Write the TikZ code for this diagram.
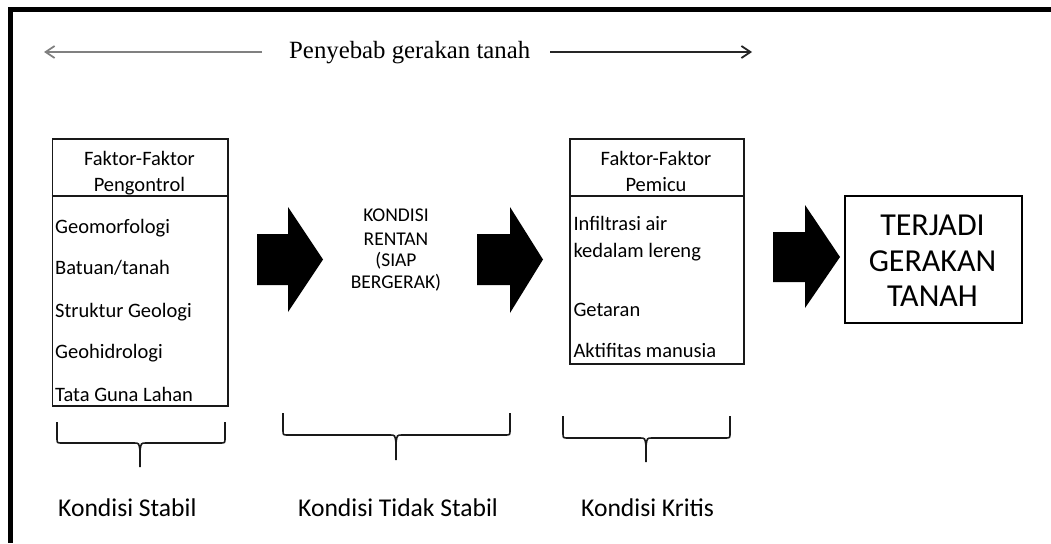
\documentclass[tikz,border=0pt]{standalone}
\usepackage{fontspec}
\setmainfont{Carlito}
\newfontfamily\serifT{Liberation Serif}
\usetikzlibrary{arrows.meta}
\newcommand\drawbrace[6]{% x1, x2, top, horizontal, middle, bottom
  \draw[bracestyle] (#1,#3) -- (#1,#4-5) .. controls (#1,#4) .. (#1+5,#4) -- (#5-6,#4)
    .. controls (#5-1,#4) .. (#5,#4+8) -- (#5,#6)
    (#5,#4+8) .. controls (#5+1,#4) .. (#5+6,#4) -- (#2-5,#4)
    .. controls (#2,#4) .. (#2,#4-5) -- (#2,#3);
}
\begin{document}
\begin{tikzpicture}[x=1pt,y=-1pt,
  boxline/.style={draw=black!90, line width=1.6pt},
  item/.style={anchor=base west, inner sep=0pt, text=black, font=\fontsize{20.5}{24}\selectfont},
  headtxt/.style={anchor=base, inner sep=0pt, text=black, font=\fontsize{20.5}{24}\selectfont},
  midtxt/.style={anchor=base, inner sep=0pt, text=black, font=\fontsize{19.5}{22}\selectfont},
  bigtxt/.style={anchor=base, inner sep=0pt, text=black, font=\fontsize{32}{36}\selectfont},
  condlabel/.style={anchor=base west, inner sep=0pt, text=black, font=\fontsize{25.6}{30}\selectfont},
  blockarrow/.style={fill=black},
  bracestyle/.style={draw=black!90, line width=1.6pt},
  topline/.style={line width=1.8pt, -{Straight Barb[length=9pt,width=12pt]}},
]
\useasboundingbox (0,0) rectangle (1051,543);
\fill[white] (0,0) rectangle (1051,543);
\draw[line width=5pt] (1051,10) -- (10,10) -- (10,543);

% title with arrows
\node[anchor=base west, inner sep=0pt, text=black, font=\serifT\fontsize{24.8}{28}\selectfont] (title) at (289,59) {Penyebab gerakan tanah};
\coordinate (lend) at (44,52);
\coordinate (rend) at (752,52);
\draw[topline, draw=black!50, shorten <=27pt] (title.west |- lend) -- (lend);
\draw[topline, draw=black!85, shorten <=20pt] (title.east |- rend) -- (rend);

% box 1
\node[boxline, anchor=north west, minimum width=175.3pt, minimum height=267pt, inner sep=0pt] (box1) at (51.7,138) {};
\draw[boxline] (box1.west |- 0,196) -- (box1.east |- 0,196);
\node[headtxt] (h1a) at (139.4,165) {Faktor-Faktor};
\node[headtxt] (h1b) at (139.4,191) {Pengontrol};
\node[item] (g1) at (55,233) {Geomorfologi};
\node[item] (g2) at (55,274.5) {Batuan/tanah};
\node[item] (g3) at (55,317) {Struktur Geologi};
\node[item] (g4) at (55,358.5) {Geohidrologi};
\node[item] (g5) at (55,401) {Tata Guna Lahan};

% arrow 1
\fill[blockarrow] (257,234) -- (288,234) -- (288,207) -- (323,259.5) -- (288,312) -- (288,285) -- (257,285) -- cycle;

% middle text
\node[midtxt] (m1) at (396,221.7) {KONDISI};
\node[midtxt] (m2) at (396,245) {RENTAN};
\node[midtxt] (m3) at (396,266.5) {(SIAP};
\node[midtxt] (m4) at (396,288.5) {BERGERAK)};

% arrow 2
\fill[blockarrow] (477,234) -- (510,234) -- (510,207) -- (543,259.5) -- (510,313) -- (510,285) -- (477,285) -- cycle;

% box 2
\node[boxline, anchor=north west, minimum width=174pt, minimum height=225pt, inner sep=0pt] (box2) at (569,138) {};
\draw[boxline] (box2.west |- 0,196) -- (box2.east |- 0,196);
\node[headtxt] (h2a) at (656,165.7) {Faktor-Faktor};
\node[headtxt] (h2b) at (656,191) {Pemicu};
\node[item] (p1) at (573.3,230.7) {Infiltrasi air};
\node[item] (p2) at (573.3,257.7) {kedalam lereng};
\node[item] (p3) at (573.3,316.7) {Getaran};
\node[item] (p4) at (573.3,357.7) {Aktifitas manusia};

% arrow 3
\fill[blockarrow] (773,232) -- (805,232) -- (805,205) -- (840,257) -- (805,308) -- (805,282) -- (773,282) -- cycle;

% final box
\node[draw=black, line width=2pt, anchor=north west, minimum width=177pt, minimum height=127pt, inner sep=0pt] (box3) at (844,195) {};
\node[bigtxt] (t1) at (932.5,235) {TERJADI};
\node[bigtxt] (t2) at (932.5,271.5) {GERAKAN};
\node[bigtxt] (t3) at (932.5,306.7) {TANAH};

% braces
\drawbrace{57}{225}{422}{443}{140}{467}
\drawbrace{283}{510}{413}{435}{396}{460}
\drawbrace{563}{730}{416}{438}{646}{462}

% labels
\node[condlabel] (k1) at (58,516.5) {Kondisi Stabil};
\node[condlabel] (k2) at (298,516.5) {Kondisi Tidak Stabil};
\node[condlabel] (k3) at (581,516.5) {Kondisi Kritis};
\end{tikzpicture}
\end{document}
